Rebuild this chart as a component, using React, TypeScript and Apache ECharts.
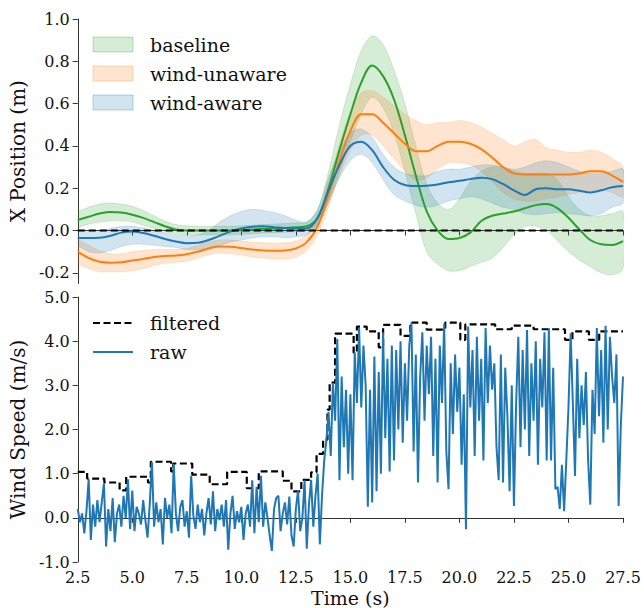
import React, { useEffect, useRef } from "react";
import * as echarts from "echarts";

// ---------- Top panel: X position (m) ----------
const TOP_T = [
  2.5, 3.0, 3.5, 4.0, 4.5, 5.0, 5.5, 6.0, 6.5, 7.0, 7.5, 8.0, 8.5, 9.0, 9.5, 10.0,
  10.5, 11.0, 11.5, 12.0, 12.5, 13.0, 13.5, 14.0, 14.5, 15.0, 15.5, 16.0, 16.5, 17.0,
  17.5, 18.0, 18.5, 19.0, 19.5, 20.0, 20.5, 21.0, 21.5, 22.0, 22.5, 23.0, 23.5, 24.0,
  24.5, 25.0, 25.5, 26.0, 26.5, 27.0, 27.5,
];

const BASE_MEAN = [
  0.05, 0.065, 0.08, 0.088, 0.085, 0.075, 0.06, 0.04, 0.02, 0.005, 0.0, 0.0, 0.0, 0.0, 0.0, 0.002,
  0.005, 0.008, 0.01, 0.012, 0.015, 0.02, 0.06, 0.2, 0.38, 0.55, 0.7, 0.78, 0.73, 0.62,
  0.45, 0.26, 0.09, 0.0, -0.04, -0.035, -0.01, 0.045, 0.07, 0.08, 0.09, 0.105, 0.12, 0.125,
  0.105, 0.06, 0.005, -0.045, -0.065, -0.068, -0.05,
];
const BASE_HI = [
  0.09, 0.11, 0.125, 0.13, 0.125, 0.115, 0.095, 0.07, 0.045, 0.028, 0.022, 0.02, 0.02, 0.02, 0.02, 0.022,
  0.025, 0.028, 0.03, 0.033, 0.036, 0.04, 0.1, 0.28, 0.5, 0.69, 0.85, 0.92, 0.88, 0.76,
  0.6, 0.4, 0.22, 0.13, 0.1, 0.15, 0.23, 0.28, 0.3, 0.3, 0.28, 0.27, 0.27, 0.27,
  0.24, 0.16, 0.1, 0.07, 0.07, 0.08, 0.09,
];
const BASE_LO = [
  0.015, 0.03, 0.04, 0.045, 0.045, 0.04, 0.025, 0.01, -0.005, -0.015, -0.02, -0.02, -0.02, -0.02, -0.02, -0.018,
  -0.015, -0.012, -0.01, -0.008, -0.005, 0.0, 0.03, 0.13, 0.28, 0.42, 0.55, 0.63, 0.58, 0.46,
  0.28, 0.08, -0.1, -0.16, -0.19, -0.19, -0.17, -0.15, -0.13, -0.08, -0.02, 0.02, 0.02, 0.0,
  -0.05, -0.1, -0.14, -0.17, -0.2, -0.21, -0.18,
];

const UNAWARE_MEAN = [
  -0.1, -0.13, -0.148, -0.152, -0.15, -0.142, -0.135, -0.125, -0.12, -0.118, -0.112, -0.1, -0.085, -0.075, -0.077, -0.083,
  -0.09, -0.094, -0.096, -0.094, -0.085, -0.055, 0.02, 0.17, 0.33, 0.47, 0.55, 0.55, 0.51, 0.46,
  0.41, 0.375, 0.375, 0.4, 0.42, 0.42, 0.41, 0.385, 0.345, 0.3, 0.27, 0.265, 0.265, 0.265,
  0.265, 0.265, 0.27, 0.28, 0.28, 0.26, 0.23,
];
const UNAWARE_HI = [
  -0.04, -0.07, -0.095, -0.11, -0.11, -0.1, -0.095, -0.09, -0.09, -0.09, -0.085, -0.07, -0.055, -0.045, -0.045, -0.05,
  -0.055, -0.058, -0.06, -0.058, -0.05, -0.02, 0.06, 0.23, 0.41, 0.56, 0.65, 0.66, 0.63, 0.59,
  0.55, 0.52, 0.5, 0.51, 0.51, 0.52, 0.51, 0.49, 0.46, 0.43, 0.4, 0.42, 0.43, 0.39,
  0.38, 0.37, 0.37, 0.38, 0.37, 0.34, 0.3,
];
const UNAWARE_LO = [
  -0.16, -0.18, -0.195, -0.195, -0.195, -0.19, -0.18, -0.165, -0.155, -0.15, -0.145, -0.13, -0.115, -0.105, -0.11, -0.115,
  -0.125, -0.13, -0.135, -0.135, -0.125, -0.095, -0.02, 0.11, 0.26, 0.38, 0.45, 0.45, 0.4, 0.34,
  0.28, 0.24, 0.25, 0.29, 0.32, 0.32, 0.31, 0.28, 0.23, 0.18, 0.15, 0.14, 0.14, 0.15,
  0.16, 0.17, 0.18, 0.19, 0.19, 0.18, 0.16,
];

const AWARE_MEAN = [
  -0.035, -0.035, -0.034, -0.025, -0.01, -0.005, -0.012, -0.025, -0.04, -0.052, -0.06, -0.058, -0.045, -0.025, -0.005, 0.01,
  0.018, 0.02, 0.016, 0.012, 0.01, 0.01, 0.06, 0.19, 0.31, 0.4, 0.42, 0.38, 0.3, 0.24,
  0.215, 0.21, 0.212, 0.218, 0.228, 0.235, 0.243, 0.25, 0.243, 0.22, 0.19, 0.168, 0.195, 0.2,
  0.195, 0.195, 0.188, 0.18, 0.19, 0.205, 0.21,
];
const AWARE_HI = [
  0.0, 0.0, 0.0, 0.01, 0.02, 0.02, 0.012, 0.0, -0.01, -0.02, -0.025, -0.02, 0.0, 0.04, 0.07, 0.09,
  0.1, 0.095, 0.085, 0.07, 0.05, 0.04, 0.1, 0.25, 0.37, 0.46, 0.48, 0.44, 0.36, 0.3,
  0.27, 0.26, 0.26, 0.28, 0.29, 0.29, 0.3, 0.31, 0.31, 0.3, 0.29, 0.3, 0.32, 0.33,
  0.32, 0.3, 0.28, 0.27, 0.27, 0.28, 0.29,
];
const AWARE_LO = [
  -0.07, -0.1, -0.105, -0.095, -0.075, -0.065, -0.065, -0.07, -0.075, -0.08, -0.09, -0.09, -0.08, -0.07, -0.055, -0.045,
  -0.035, -0.03, -0.03, -0.035, -0.03, -0.02, 0.03, 0.14, 0.25, 0.33, 0.36, 0.32, 0.24, 0.17,
  0.14, 0.12, 0.11, 0.12, 0.14, 0.15, 0.16, 0.15, 0.13, 0.11, 0.1, 0.08, 0.075, 0.08,
  0.085, 0.08, 0.075, 0.07, 0.08, 0.11, 0.13,
];

const TOP_Y_TICKS = [-0.2, 0.0, 0.2, 0.4, 0.6, 0.8, 1.0];

// ---------- Bottom panel: wind speed (m/s) ----------
const RAW_T0 = 2.5;
const RAW_DT = 0.1;
const RAW = [
  0.2, -0.1, 0.1, -0.35, 0.15,
  0.88, -0.5, 0.3, -0.2, 0.4, -0.1, 0.35, 0.78, -0.65, 0.2,
  -0.3, 0.45, -0.55, 0.1, 0.3, -0.2, 0.5, 0.0, 0.87, -0.25,
  0.62, -0.3, 0.25, 0.1, -0.15, 0.4, -0.05, -0.45, 0.3, 1.27,
  -0.2, 0.35, -0.1, 0.2, -0.6, 0.45, 0.0, 0.3, -0.35, 1.22,
  0.1, -0.3, 0.25, 0.4, -0.2, 0.15, -0.45, 0.96, 0.05, -0.25,
  0.3, -0.1, 0.2, -0.4, 0.1, 0.45, -0.15, 0.6, -0.3, 0.2,
  -0.05, 0.3, -0.2, 0.4, -0.72, 0.1, 0.5, -0.25, 0.15, -0.1,
  0.25, -0.5, 0.1, 0.3, -0.2, 0.85, -0.35, 0.7, -0.1, 0.95,
  -0.2, 0.35, 0.0, -0.4, -0.75, 0.2, 0.45, 0.5, -0.3, 0.1,
  0.35, -0.15, 0.48, -0.4, -0.65, 0.2, 0.62, -0.3, 0.0, 0.85,
  -0.7, 0.3, 0.86, -0.2, 0.5, 1.0, -0.6, 0.5, 1.3, 1.75,
  2.4, 1.4, 3.05, 2.2, 4.05, 0.85, 3.2, 1.6, 2.9, 1.0,
  2.8, 0.85, 3.75, 2.6, 4.3, 2.5, 3.9, 3.0, 0.25, 2.9,
  0.35, 3.65, 0.6, 3.3, 1.0, 4.2, 1.8, 3.6, 1.05, 3.9,
  1.3, 3.8, 2.0, 4.0, 1.7, 3.5, 2.2, 3.9, 4.42, 1.5,
  3.7, 0.8, 3.2, 4.2, 2.2, 3.9, 2.8, 4.1, 1.4, 3.6,
  0.8, 3.9, 2.6, 4.4, 1.5, 0.65, 3.5, 1.9, 3.7, 2.4,
  3.4, 1.2, 2.8, -0.26, 4.33, 2.5, 3.8, 1.4, 4.1, 2.2,
  3.6, 1.3, 4.3, 2.6, 3.9, 2.9, 3.5, 1.6, 0.85, 3.7,
  0.8, 3.4, 2.3, 0.6, 3.0, 0.27, 2.6, 4.1, 1.6, 3.8,
  2.0, 4.25, 1.4, 3.5, 2.2, 4.0, 1.2, 3.6, 2.5, 4.2,
  1.3, 4.3, 1.3, 3.4, 0.65, 0.7, 0.2, 1.2, 0.15, 1.3,
  2.5, 4.18, 2.6, 0.95, 3.6, 1.8, 3.0, 2.1, 3.3, 1.3,
  0.3, 2.9, 1.9, 4.3, 2.3, 3.8, 1.7, 4.35, 2.0, 4.1,
  3.2, 2.6, 3.7, 0.27, 2.1, 3.2,
];

const FILT_T = [
  2.5, 2.93, 3.72, 4.42, 4.72, 5.72, 5.85, 6.78, 6.88, 7.75, 8.55, 9.35, 10.25, 10.8, 11.9,
  12.3, 12.75, 13.2, 13.45, 13.75, 13.95, 14.05, 14.3, 15.15, 15.3, 15.75, 16.3, 16.5, 17.3,
  17.75, 18.5, 19.35, 20.04, 20.27, 21.64, 22.4, 23.4, 24.84, 25.18, 25.94, 26.41, 27.5,
];
const FILT_V = [
  1.04, 0.89, 0.8, 0.62, 0.93, 0.8, 1.27, 1.05, 1.23, 0.98, 0.76, 1.04, 0.67, 1.05, 0.84,
  0.6, 0.86, 1.03, 1.45, 1.77, 2.45, 3.06, 4.17, 3.74, 4.33, 4.22, 3.86, 4.37, 4.12,
  4.42, 4.26, 4.42, 4.03, 4.38, 4.27, 4.35, 4.27, 4.03, 4.22, 4.03, 4.22, 4.22,
];

const TOP_LEGEND = ["baseline", "wind-unaware", "wind-aware"];
const BOTTOM_LEGEND = ["filtered", "raw"];

const FONT = "DejaVu Serif";
const GREEN = "#2ca02c";
const ORANGE = "#ff7f0e";
const BLUE = "#1f77b4";
const TXT = "#111";

const zip = (xs: number[], ys: number[]) => xs.map((x, i) => [x, ys[i]]);

// Fill-between band drawn through the axis scales (api.coord)
function band(name: string, lo: number[], hi: number[], color: string) {
  return {
    name,
    type: "custom",
    xAxisIndex: 0,
    yAxisIndex: 0,
    silent: true,
    clip: true,
    z: 1,
    data: [[TOP_T[0], lo[0]]],
    encode: { x: 0, y: 1 },
    renderItem: (_params: any, api: any) => {
      const upper = TOP_T.map((t, i) => api.coord([t, hi[i]]));
      const lower = TOP_T.map((t, i) => api.coord([t, lo[i]])).reverse();
      return {
        type: "group",
        children: [
          {
            type: "polyline",
            shape: { points: upper.concat(lower), smooth: 0.35 },
            style: { fill: color, opacity: 0.2, stroke: color, lineWidth: 0.8 },
            silent: true,
          },
        ],
      };
    },
  };
}

function meanLine(name: string, mean: number[], color: string) {
  return {
    name,
    type: "line",
    xAxisIndex: 0,
    yAxisIndex: 0,
    smooth: 0.35,
    symbol: "none",
    silent: true,
    color,
    lineStyle: { width: 2, color },
    data: zip(TOP_T, mean),
    z: 3,
  };
}

const axisCommon = {
  axisLine: { show: true, lineStyle: { color: "#333", width: 1 } },
  axisTick: { show: true, inside: false, length: 5, lineStyle: { color: "#333", width: 1 } },
  splitLine: { show: false },
};

const tickLabel = {
  show: true,
  fontFamily: FONT,
  fontSize: 16,
  color: TXT,
  formatter: (v: number) => v.toFixed(1),
};

function legendGraphics() {
  const fills = ["rgba(44,160,44,0.2)", "rgba(255,127,14,0.2)", "rgba(31,119,180,0.2)"];
  const strokes = ["rgba(44,160,44,0.3)", "rgba(255,127,14,0.3)", "rgba(31,119,180,0.3)"];
  const els: any[] = [];
  TOP_LEGEND.forEach((name, i) => {
    const cy = 44.5 + i * 29;
    els.push({
      type: "rect",
      shape: { x: 93, y: cy - 7.5, width: 40, height: 15 },
      style: { fill: fills[i], stroke: strokes[i], lineWidth: 1 },
      silent: true,
    });
    els.push({
      type: "text",
      x: 150,
      y: cy,
      style: { text: name, font: `19px "${FONT}"`, fill: TXT, verticalAlign: "middle", align: "left" },
      silent: true,
    });
  });
  const lineStyles = [
    { stroke: "#000", lineWidth: 2.2, lineDash: [7, 3.5] },
    { stroke: BLUE, lineWidth: 2 },
  ];
  BOTTOM_LEGEND.forEach((name, i) => {
    const cy = 323 + i * 29;
    els.push({
      type: "line",
      shape: { x1: 93, y1: cy, x2: 133, y2: cy },
      style: lineStyles[i],
      silent: true,
    });
    els.push({
      type: "text",
      x: 150,
      y: cy,
      style: { text: name, font: `19px "${FONT}"`, fill: TXT, verticalAlign: "middle", align: "left" },
      silent: true,
    });
  });
  return els;
}

export default function App() {
  const ref = useRef<HTMLDivElement>(null);
  useEffect(() => {
    if (!ref.current) return;
    const chart = echarts.init(ref.current, undefined, { renderer: "svg" });
    const rawData = RAW.map((v, i) => [+(RAW_T0 + i * RAW_DT).toFixed(2), v]);
    const option: any = {
      animation: false,
      backgroundColor: "#fff",
      textStyle: { fontFamily: FONT },
      grid: [
        { left: 77, top: 19, width: 546, height: 264.4 },
        { left: 77, top: 297, width: 546, height: 266 },
      ],
      xAxis: [
        {
          type: "value",
          gridIndex: 0,
          min: 2.5,
          max: 27.5,
          interval: 2.5,
          ...axisCommon,
          axisLabel: { show: false },
        },
        {
          type: "value",
          gridIndex: 1,
          min: 2.5,
          max: 27.5,
          interval: 2.5,
          ...axisCommon,
          axisLabel: { ...tickLabel, margin: 7 },
          name: "Time (s)",
          nameLocation: "middle",
          nameGap: 26,
          nameTextStyle: { fontFamily: FONT, fontSize: 19, color: TXT },
        },
      ],
      yAxis: [
        {
          type: "value",
          gridIndex: 0,
          min: -0.25,
          max: 1.0,
          ...axisCommon,
          axisTick: { ...axisCommon.axisTick, customValues: TOP_Y_TICKS },
          axisLabel: { ...tickLabel, margin: 8, customValues: TOP_Y_TICKS },
          name: "X Position (m)",
          nameLocation: "middle",
          nameGap: 43,
          nameTextStyle: { fontFamily: FONT, fontSize: 20, color: TXT },
        },
        {
          type: "value",
          gridIndex: 1,
          min: -1,
          max: 5,
          interval: 1,
          ...axisCommon,
          axisLabel: { ...tickLabel, margin: 8 },
          name: "Wind Speed (m/s)",
          nameLocation: "middle",
          nameGap: 43,
          nameTextStyle: { fontFamily: FONT, fontSize: 20, color: TXT },
        },
      ],
      graphic: legendGraphics(),
      series: [
        band("baseline", BASE_LO, BASE_HI, GREEN),
        band("wind-unaware", UNAWARE_LO, UNAWARE_HI, ORANGE),
        band("wind-aware", AWARE_LO, AWARE_HI, BLUE),
        meanLine("baseline-mean", BASE_MEAN, GREEN),
        meanLine("wind-unaware-mean", UNAWARE_MEAN, ORANGE),
        meanLine("wind-aware-mean", AWARE_MEAN, BLUE),
        {
          name: "zero",
          type: "line",
          xAxisIndex: 0,
          yAxisIndex: 0,
          symbol: "none",
          silent: true,
          lineStyle: { color: "#000", width: 2, type: [7, 4] },
          data: [
            [2.5, 0],
            [27.5, 0],
          ],
          z: 4,
        },
        {
          name: "filtered",
          type: "line",
          xAxisIndex: 1,
          yAxisIndex: 1,
          step: "end",
          symbol: "none",
          silent: true,
          color: "#000",
          lineStyle: { color: "#000", width: 2.2, type: [7, 3.5] },
          data: zip(FILT_T, FILT_V),
          z: 2,
        },
        {
          name: "raw",
          type: "line",
          xAxisIndex: 1,
          yAxisIndex: 1,
          symbol: "none",
          silent: true,
          color: BLUE,
          lineStyle: { color: BLUE, width: 2 },
          data: rawData,
          z: 3,
        },
      ],
    };
    chart.setOption(option);
    return () => chart.dispose();
  }, []);
  return (
    <div
      ref={ref}
      style={{ position: "fixed", left: 0, top: 0, width: 644, height: 608 }}
    />
  );
}
